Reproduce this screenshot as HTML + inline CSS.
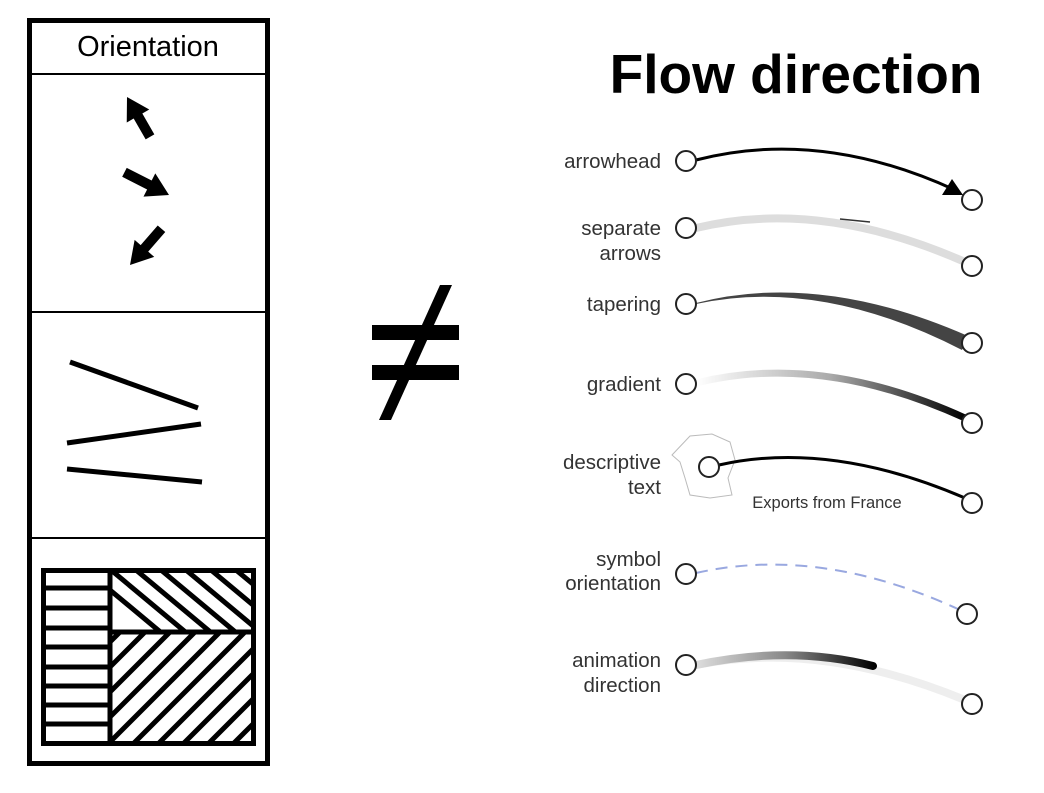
<!DOCTYPE html>
<html><head><style>
html,body{margin:0;padding:0;background:#fff;}
svg{display:block}
text{font-family:"Liberation Sans",sans-serif;}
</style></head><body>
<svg width="1044" height="793" viewBox="0 0 1044 793" xmlns="http://www.w3.org/2000/svg">
<defs>
<clipPath id="ctop"><rect x="111" y="571" width="142" height="61"/></clipPath>
<clipPath id="cbot"><rect x="111" y="632" width="142" height="111"/></clipPath>
<linearGradient id="g1" x1="696" y1="0" x2="965" y2="0" gradientUnits="userSpaceOnUse">
<stop offset="0" stop-color="#fff"/><stop offset="0.5" stop-color="#aaa"/><stop offset="1" stop-color="#000"/></linearGradient>
<linearGradient id="g2" x1="696" y1="0" x2="875" y2="0" gradientUnits="userSpaceOnUse">
<stop offset="0" stop-color="#ddd"/><stop offset="0.5" stop-color="#888"/><stop offset="1" stop-color="#000"/></linearGradient>
</defs>
<!-- left box -->
<rect x="29.5" y="20.5" width="238" height="743" fill="none" stroke="#000" stroke-width="5"/>
<line x1="30" y1="74" x2="267" y2="74" stroke="#000" stroke-width="2"/>
<line x1="30" y1="312" x2="267" y2="312" stroke="#000" stroke-width="2"/>
<line x1="30" y1="538" x2="267" y2="538" stroke="#000" stroke-width="2"/>
<text x="148" y="56" font-size="29" text-anchor="middle">Orientation</text>
<!-- arrows -->
<g fill="#000">
<g transform="translate(127,97) rotate(-120)"><polygon points="0,0 -22,-13 -22,-5 -46,-5 -46,5 -22,5 -22,13"/></g>
<g transform="translate(169,195) rotate(27)"><polygon points="0,0 -22,-13 -22,-5 -50,-5 -50,5 -22,5 -22,13"/></g>
<g transform="translate(130,265) rotate(131)"><polygon points="0,0 -22,-13 -22,-5 -48,-5 -48,5 -22,5 -22,13"/></g>
</g>
<g stroke="#000" stroke-width="5">
<line x1="70" y1="362" x2="198" y2="408"/>
<line x1="67" y1="443" x2="201" y2="424"/>
<line x1="67" y1="469" x2="202" y2="482"/>
</g>
<!-- hatch box -->
<g stroke="#000" stroke-width="5">
<line x1="43" y1="588" x2="110" y2="588"/><line x1="43" y1="608" x2="110" y2="608"/>
<line x1="43" y1="628" x2="110" y2="628"/><line x1="43" y1="647" x2="110" y2="647"/>
<line x1="43" y1="667" x2="110" y2="667"/><line x1="43" y1="686" x2="110" y2="686"/>
<line x1="43" y1="705" x2="110" y2="705"/><line x1="43" y1="724" x2="110" y2="724"/>
<g clip-path="url(#ctop)">
<line x1="50" y1="540" x2="170" y2="640"/><line x1="75" y1="540" x2="195" y2="640"/>
<line x1="100" y1="540" x2="220" y2="640"/><line x1="125" y1="540" x2="245" y2="640"/>
<line x1="150" y1="540" x2="270" y2="640"/><line x1="175" y1="540" x2="295" y2="640"/>
<line x1="200" y1="540" x2="320" y2="640"/><line x1="225" y1="540" x2="345" y2="640"/>
</g>
<g clip-path="url(#cbot)">
<line x1="120" y1="632" x2="0" y2="752"/><line x1="145" y1="632" x2="25" y2="752"/>
<line x1="170" y1="632" x2="50" y2="752"/><line x1="195" y1="632" x2="75" y2="752"/>
<line x1="220" y1="632" x2="100" y2="752"/><line x1="245" y1="632" x2="125" y2="752"/>
<line x1="270" y1="632" x2="150" y2="752"/><line x1="295" y1="632" x2="175" y2="752"/>
<line x1="320" y1="632" x2="200" y2="752"/><line x1="345" y1="632" x2="225" y2="752"/>
<line x1="370" y1="632" x2="250" y2="752"/>
</g>
<line x1="110" y1="570" x2="110" y2="744"/>
<line x1="110" y1="632" x2="254" y2="632"/>
<rect x="43.5" y="570.5" width="210" height="173" fill="none"/>
</g>
<!-- not equal -->
<g fill="#000">
<rect x="372" y="325" width="87" height="15"/>
<rect x="372" y="365" width="87" height="15"/>
<polygon points="440,285 452,285 391,420 379,420"/>
</g>
<!-- right side -->
<text x="796" y="93" font-size="55" font-weight="bold" text-anchor="middle">Flow direction</text>
<g font-size="20.5" fill="#333" text-anchor="end">
<text x="661" y="168">arrowhead</text>
<text x="661" y="235">separate</text>
<text x="661" y="260">arrows</text>
<text x="661" y="311">tapering</text>
<text x="661" y="391">gradient</text>
<text x="661" y="469">descriptive</text>
<text x="661" y="494">text</text>
<text x="661" y="566">symbol</text>
<text x="661" y="590">orientation</text>
<text x="661" y="667">animation</text>
<text x="661" y="692">direction</text>
</g>
<!-- curves -->
<path d="M696,160 Q820,128 955,190" fill="none" stroke="#000" stroke-width="3"/>
<polygon points="963,195 942,195 952,179" fill="#000"/>
<path d="M696,228 Q820,198 965,262" fill="none" stroke="#ddd" stroke-width="8"/>
<line x1="840" y1="219" x2="870" y2="222" stroke="#333" stroke-width="1.5"/>
<path d="M696,303 Q820,271 968,336 L962,350 Q820,277 696,304 Z" fill="#444"/>
<path d="M696,383 Q820,352 965,418" fill="none" stroke="url(#g1)" stroke-width="7"/>
<path d="M672,455 L690,436 L712,434 L730,442 L735,460 L728,478 L732,495 L710,498 L690,495 L685,478 L680,462 Z" fill="none" stroke="#bbb" stroke-width="1"/>
<path d="M719,465 Q830,440 965,498" fill="none" stroke="#000" stroke-width="3"/>
<text x="827" y="508" font-size="16.5" fill="#333" text-anchor="middle">Exports from France</text>
<path d="M696,573 Q820,545 960,610" fill="none" stroke="#99a8e0" stroke-width="2" stroke-dasharray="12,8"/>
<path d="M696,665 Q820,640 965,700" fill="none" stroke="#eee" stroke-width="8"/>
<path d="M696,665 Q790,645 873,666" fill="none" stroke="url(#g2)" stroke-width="8" stroke-linecap="round"/>
<g fill="#fff" stroke="#222" stroke-width="2">
<circle cx="686" cy="161" r="10"/><circle cx="972" cy="200" r="10"/>
<circle cx="686" cy="228" r="10"/><circle cx="972" cy="266" r="10"/>
<circle cx="686" cy="304" r="10"/><circle cx="972" cy="343" r="10"/>
<circle cx="686" cy="384" r="10"/><circle cx="972" cy="423" r="10"/>
<circle cx="709" cy="467" r="10"/><circle cx="972" cy="503" r="10"/>
<circle cx="686" cy="574" r="10"/><circle cx="967" cy="614" r="10"/>
<circle cx="686" cy="665" r="10"/><circle cx="972" cy="704" r="10"/>
</g>
</svg>
</body></html>
